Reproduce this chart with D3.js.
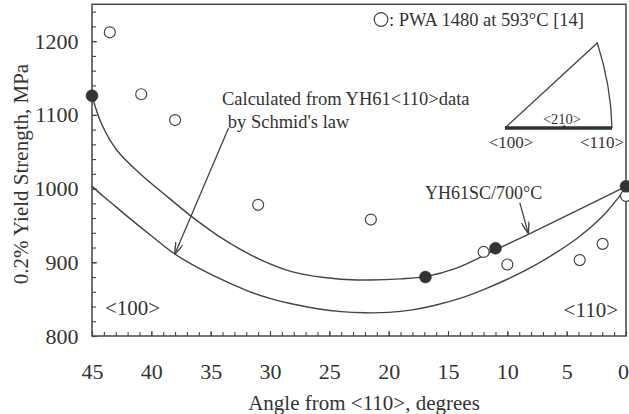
<!DOCTYPE html>
<html>
<head>
<meta charset="utf-8">
<script src="https://cdn.jsdelivr.net/npm/d3@7"></script>
<style>
  html, body { margin: 0; padding: 0; background: #fff; }
  svg { display: block; }
  text { font-family: "Liberation Serif", "Times New Roman", serif; fill: #333; }
</style>
</head>
<body>
<svg id="chart" width="629" height="414"></svg>
<script>
// ---------- data ----------
const xTickLabels = [45, 40, 35, 30, 25, 20, 15, 10, 5, 0];
const yTickLabels = [800, 900, 1000, 1100, 1200];

// YH61SC / 700°C fitted curve
const upperAngle = [45, 44.2, 42.9, 40.8, 38.5, 36.6, 33.8, 31, 28.1, 24, 21.5, 19, 16.9, 14.3, 11, 8.1, 4.4, 0];
const upperYield = [1126, 1088, 1052, 1018, 987, 962, 930, 905, 887, 877, 876, 877.5, 880.5, 892, 917, 939, 968, 1003];

// Calculated from YH61<110> data by Schmid's law
const lowerAngle = [45, 44, 43, 42, 40, 38, 36, 34, 32, 30, 28, 26, 24, 22, 20, 18, 16, 14, 12, 10, 8, 6, 4, 2, 0];
const lowerYield = [1003, 989, 975.5, 962, 936, 911, 892, 876, 862, 851, 843, 837, 833, 831.5, 832, 835.5, 842, 851, 863, 877, 893, 912, 934, 962, 1001];

// PWA 1480 at 593°C [14] (open circles)
const pwaAngle = [43.5, 40.85, 38.0, 31.0, 21.5, 12.0, 10.0, 3.9, 1.97, 0];
const pwaYield = [1212, 1128, 1093, 978, 958, 914, 897, 903, 925, 990];

// YH61SC / 700°C (filled circles)
const yhAngle = [45, 16.9, 11.0, 0];
const yhYield = [1126, 880, 919, 1003];

// ---------- layout ----------
const L = 92, R = 626, T = 4.3, B = 336;
const lineColor = "#444";

const svg = d3.select("#chart");
const x = d3.scaleLinear().domain([45, 0]).range([L, R]);
const y = d3.scaleLinear().domain([800, 1250]).range([B, T]);

// minor ticks
svg.append("g").attr("transform", `translate(${L},0)`)
  .call(d3.axisLeft(y).tickValues(d3.range(800, 1251, 20)).tickSize(-4).tickFormat(""))
  .call(g => g.select(".domain").remove())
  .call(g => g.selectAll("line").attr("stroke", lineColor).attr("stroke-width", 1.1));
svg.append("g").attr("transform", `translate(0,${B})`)
  .call(d3.axisBottom(x).tickValues(d3.range(0, 46, 1)).tickSize(-4).tickFormat(""))
  .call(g => g.select(".domain").remove())
  .call(g => g.selectAll("line").attr("stroke", lineColor).attr("stroke-width", 1.1));

// major ticks + labels
svg.append("g").attr("transform", `translate(${L},0)`)
  .call(d3.axisLeft(y).tickValues(yTickLabels).tickSize(-5).tickPadding(13.5).tickFormat(d3.format("d")))
  .call(g => g.select(".domain").remove())
  .call(g => g.selectAll("line").attr("stroke", lineColor).attr("stroke-width", 1.1))
  .call(g => g.selectAll("text").attr("font-size", 22).attr("font-family", null).attr("fill", "#333"));
svg.append("g").attr("transform", `translate(0,${B})`)
  .call(d3.axisBottom(x).tickValues(xTickLabels).tickSize(-5).tickPadding(27).tickFormat(d3.format("d")))
  .call(g => g.select(".domain").remove())
  .call(g => g.selectAll("line").attr("stroke", lineColor).attr("stroke-width", 1.1))
  .call(g => g.selectAll("text").attr("font-size", 22).attr("font-family", null).attr("fill", "#333")
    .attr("dx", d => d === 0 ? -3 : 0));

// frame
svg.append("rect").attr("x", L).attr("y", T).attr("width", R - L).attr("height", B - T)
  .attr("fill", "none").attr("stroke", lineColor).attr("stroke-width", 1.5);

// axis titles
svg.append("text").attr("x", (L + R) / 2 + 5).attr("y", 409.5)
  .attr("text-anchor", "middle").attr("font-size", 21)
  .text("Angle from <110>, degrees");
svg.append("text").attr("transform", `translate(28,174) rotate(-90)`)
  .attr("text-anchor", "middle").attr("font-size", 21)
  .text("0.2% Yield Strength, MPa");

// curves
const line = d3.line().x(d => x(d[0])).y(d => y(d[1])).curve(d3.curveCatmullRom.alpha(0.5));
svg.append("path").datum(lowerAngle.map((a, i) => [a, lowerYield[i]]))
  .attr("d", line).attr("fill", "none").attr("stroke", lineColor).attr("stroke-width", 1.4);
svg.append("path").datum(upperAngle.map((a, i) => [a, upperYield[i]]))
  .attr("d", line).attr("fill", "none").attr("stroke", lineColor).attr("stroke-width", 1.4);

// open circles
svg.append("g").selectAll("circle").data(pwaAngle.map((a, i) => [a, pwaYield[i]])).join("circle")
  .attr("cx", d => x(d[0])).attr("cy", d => y(d[1])).attr("r", 5.5)
  .attr("fill", "#fff").attr("stroke", lineColor).attr("stroke-width", 1.2);
// filled circles
svg.append("g").selectAll("circle").data(yhAngle.map((a, i) => [a, yhYield[i]])).join("circle")
  .attr("cx", d => x(d[0])).attr("cy", d => y(d[1])).attr("r", 6)
  .attr("fill", "#333").attr("stroke", "#333").attr("stroke-width", 0.5);

// arrows
const defs = svg.append("defs");
defs.append("marker").attr("id", "arr").attr("viewBox", "0 0 12 8")
  .attr("refX", 11).attr("refY", 4).attr("markerWidth", 12).attr("markerHeight", 8)
  .attr("markerUnits", "userSpaceOnUse").attr("orient", "auto")
  .append("path").attr("d", "M0,0 L12,4 L0,8").attr("fill", "none")
  .attr("stroke", lineColor).attr("stroke-width", 1.4);

svg.append("line")
  .attr("x1", x(33.5)).attr("y1", y(1082)).attr("x2", x(38.0)).attr("y2", y(912))
  .attr("stroke", lineColor).attr("stroke-width", 1.3).attr("marker-end", "url(#arr)");
svg.append("line")
  .attr("x1", x(8.95)).attr("y1", y(981)).attr("x2", x(8.25)).attr("y2", y(940))
  .attr("stroke", lineColor).attr("stroke-width", 1.3).attr("marker-end", "url(#arr)");

// annotations
svg.append("text").attr("x", x(34.05)).attr("y", 105).attr("font-size", 18.5)
  .text("Calculated from YH61<110>data");
svg.append("text").attr("x", x(33.55)).attr("y", 127.5).attr("font-size", 18.5)
  .text("by Schmid's law");
svg.append("text").attr("x", 425).attr("y", 198.5).attr("font-size", 18)
  .text("YH61SC/700\u00B0C");
svg.append("text").attr("x", 105).attr("y", 315).attr("font-size", 21)
  .text("<100>");
svg.append("text").attr("x", 618).attr("y", 317).attr("font-size", 21).attr("text-anchor", "end")
  .text("<110>");

// legend
svg.append("circle").attr("cx", 381).attr("cy", 19.5).attr("r", 6.8)
  .attr("fill", "#fff").attr("stroke", lineColor).attr("stroke-width", 1.2);
svg.append("text").attr("x", 389).attr("y", 26).attr("font-size", 18.5)
  .text(": PWA 1480 at 593\u00B0C [14]");

// inset stereographic triangle
const inset = { ox: 505, oy: 128, w: 107, apexDx: 92.3, apexDy: -85 };
const g = svg.append("g").attr("transform", `translate(${inset.ox},${inset.oy})`);
g.append("path")
  .attr("d", `M0,0 L${inset.apexDx},${inset.apexDy} Q${inset.w - 1},${inset.apexDy / 2} ${inset.w},0`)
  .attr("fill", "none").attr("stroke", lineColor).attr("stroke-width", 1.3);
g.append("line").attr("x1", 0).attr("y1", 0).attr("x2", inset.w).attr("y2", 0)
  .attr("stroke", "#333").attr("stroke-width", 3.5);
g.append("circle").attr("cx", 59).attr("cy", -1).attr("r", 1.8).attr("fill", "#333");
g.append("text").attr("x", 57).attr("y", -4).attr("text-anchor", "middle").attr("font-size", 14.5)
  .text("<210>");
g.append("text").attr("x", 6).attr("y", 20).attr("text-anchor", "middle").attr("font-size", 17)
  .text("<100>");
g.append("text").attr("x", 97).attr("y", 20).attr("text-anchor", "middle").attr("font-size", 17)
  .text("<110>");
</script>
</body>
</html>
